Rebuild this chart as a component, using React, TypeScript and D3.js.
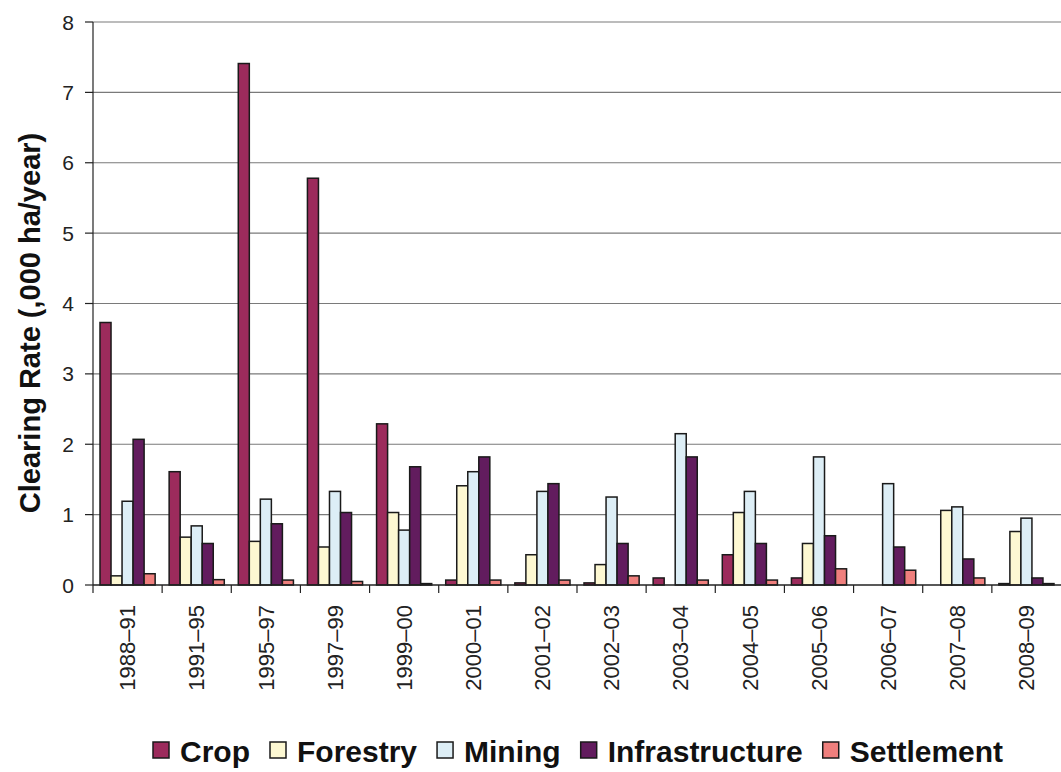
import React, { useEffect, useRef } from 'react';
import * as d3 from 'd3';

const periods = ['1988–91', '1991–95', '1995–97', '1997–99', '1999–00', '2000–01', '2001–02', '2002–03', '2003–04', '2004–05', '2005–06', '2006–07', '2007–08', '2008–09'];
const seriesNames = ['Crop', 'Forestry', 'Mining', 'Infrastructure', 'Settlement'];
const seriesColors = ['#9c2b5c', '#fdf8d2', '#ddeef6', '#621c5e', '#ef7f7d'];

const crop = [3.73, 1.61, 7.41, 5.78, 2.29, 0.07, 0.03, 0.03, 0.1, 0.43, 0.1, 0, 0, 0.02];
const forestry = [0.13, 0.68, 0.62, 0.54, 1.03, 1.41, 0.43, 0.29, 0, 1.03, 0.59, 0, 1.06, 0.76];
const mining = [1.19, 0.84, 1.22, 1.33, 0.78, 1.61, 1.33, 1.25, 2.15, 1.33, 1.82, 1.44, 1.11, 0.95];
const infrastructure = [2.07, 0.59, 0.87, 1.03, 1.68, 1.82, 1.44, 0.59, 1.82, 0.59, 0.7, 0.54, 0.37, 0.1];
const settlement = [0.16, 0.076, 0.07, 0.05, 0.02, 0.07, 0.07, 0.13, 0.07, 0.07, 0.23, 0.21, 0.1, 0.02];

const yTicks = [0, 1, 2, 3, 4, 5, 6, 7, 8];

const W = 1061;
const H = 772;
const FONT = "'Liberation Sans', Arial, sans-serif";

const App: React.FC = () => {
  const ref = useRef<SVGSVGElement>(null);

  useEffect(() => {
    if (!ref.current) return;
    const svg = d3.select(ref.current);
    svg.selectAll('*').remove();

    const left = 93, right = 1061, top = 22, bottom = 585;
    const values = [crop, forestry, mining, infrastructure, settlement];

    const x0 = d3.scaleBand<string>().domain(periods).range([left, right]).padding(0);
    const x1 = d3.scaleBand<number>().domain(d3.range(seriesNames.length))
      .range([7, x0.bandwidth() - 7]).padding(0);
    const y = d3.scaleLinear().domain([0, 8]).range([bottom, top]);

    // gridlines
    svg.append('g').selectAll('line').data(yTicks.filter(t => t > 0)).enter().append('line')
      .attr('x1', left).attr('x2', right)
      .attr('y1', d => y(d)).attr('y2', d => y(d))
      .attr('stroke', '#7a7a7a').attr('stroke-width', 1.2);

    // bars
    const groups = svg.append('g').selectAll('g').data(periods).enter().append('g')
      .attr('transform', p => `translate(${x0(p)},0)`);
    groups.selectAll('rect')
      .data((p, i) => values.map((s, k) => ({ k, v: s[i] })).filter(d => d.v > 0))
      .enter().append('rect')
      .attr('x', d => x1(d.k)!)
      .attr('width', x1.bandwidth())
      .attr('y', d => y(d.v))
      .attr('height', d => y(0) - y(d.v))
      .attr('fill', d => seriesColors[d.k])
      .attr('stroke', '#1a1a1a')
      .attr('stroke-width', 1.5);

    // y axis
    const ya = svg.append('g');
    ya.append('line').attr('x1', left).attr('x2', left).attr('y1', top).attr('y2', bottom)
      .attr('stroke', '#222').attr('stroke-width', 1.2);
    ya.selectAll('line.tick').data(yTicks).enter().append('line').attr('class', 'tick')
      .attr('x1', left - 8).attr('x2', left).attr('y1', d => y(d)).attr('y2', d => y(d))
      .attr('stroke', '#222').attr('stroke-width', 1.2);
    ya.selectAll('text').data(yTicks).enter().append('text')
      .attr('x', left - 19).attr('y', d => y(d)).attr('dy', '0.36em')
      .attr('text-anchor', 'end').attr('font-family', FONT).attr('font-size', 21)
      .attr('fill', '#222').text(d => d);

    // x axis
    const xa = svg.append('g');
    xa.append('line').attr('x1', left).attr('x2', right).attr('y1', bottom).attr('y2', bottom)
      .attr('stroke', '#222').attr('stroke-width', 1.5);
    xa.selectAll('line.tick').data(periods).enter().append('line').attr('class', 'tick')
      .attr('x1', p => x0(p)!).attr('x2', p => x0(p)!)
      .attr('y1', bottom).attr('y2', bottom + 8)
      .attr('stroke', '#222').attr('stroke-width', 1.2);
    xa.selectAll('text').data(periods).enter().append('text')
      .attr('transform', p => `translate(${x0(p)! + x0.bandwidth() / 2},${bottom + 20}) rotate(-90)`)
      .attr('dy', '0.35em').attr('text-anchor', 'end')
      .attr('font-family', FONT).attr('font-size', 22).attr('fill', '#222')
      .text(p => p);

    // y title
    svg.append('text')
      .attr('transform', `translate(30,323) rotate(-90)`)
      .attr('dy', '0.35em').attr('text-anchor', 'middle')
      .attr('font-family', FONT).attr('font-size', 29).attr('font-weight', 'bold')
      .attr('fill', '#111').text('Clearing Rate (,000 ha/year)');

    // legend
    const lg = svg.append('g');
    const items = lg.selectAll('g').data(seriesNames).enter().append('g');
    items.append('rect').attr('width', 16).attr('height', 16).attr('y', -9)
      .attr('fill', (d, i) => seriesColors[i]).attr('stroke', '#1a1a1a').attr('stroke-width', 1.5);
    const texts = items.append('text').attr('x', 27).attr('y', 11)
      .attr('font-family', FONT).attr('font-size', 30).attr('font-weight', 'bold')
      .attr('fill', '#111').text(d => d);
    const widths: number[] = [];
    texts.each(function () { widths.push((this as SVGTextElement).getComputedTextLength()); });
    const gap = 20;
    let cx = 153;
    items.attr('transform', (d, i) => {
      const t = `translate(${cx},751)`;
      cx += 27 + widths[i] + gap;
      return t;
    });
  }, []);

  return (
    <svg ref={ref} width={W} height={H}
      style={{ position: 'absolute', left: 0, top: 0, background: '#fff' }} />
  );
};

export default App;
